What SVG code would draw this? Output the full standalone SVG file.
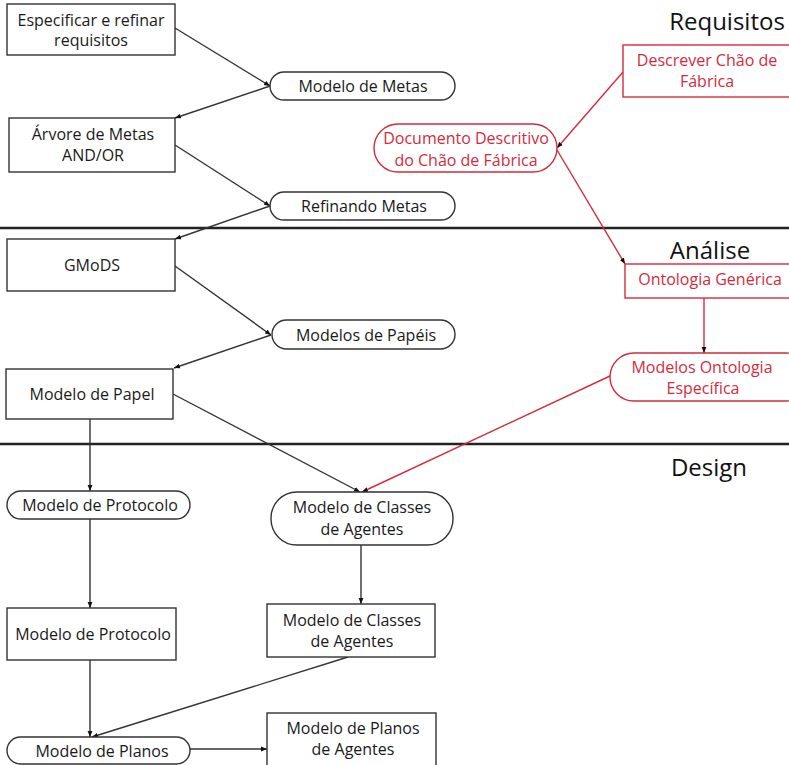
<svg xmlns="http://www.w3.org/2000/svg" width="789" height="765" viewBox="0 0 789 765">
  <defs>
    <style>
      .box { fill: #fff; stroke: #333; stroke-width: 1.4; }
      .rbox { fill: #fff; stroke: #d42b3c; stroke-width: 1.4; }
      .t { font-family: "Open Sans", "Liberation Sans", sans-serif; font-size: 16px; fill: #1a1a1a; text-anchor: middle; }
      .rt { font-family: "Open Sans", "Liberation Sans", sans-serif; font-size: 16px; fill: #d42b3c; text-anchor: middle; }
      .h { font-family: "Open Sans", "Liberation Sans", sans-serif; font-size: 24px; fill: #111; text-anchor: middle; }
      .c { fill: none; stroke: #333; stroke-width: 1.4; marker-end: url(#arr); }
      .rc { fill: none; stroke: #d42b3c; stroke-width: 1.4; marker-end: url(#arr); }
      .sep { stroke: #222; stroke-width: 2.6; }
    </style>
    <marker id="arr" viewBox="0 0 10 10" refX="10" refY="5" markerWidth="6" markerHeight="6" markerUnits="userSpaceOnUse" orient="auto">
      <path d="M0,1 L10,5 L0,9 z" fill="#111"/>
    </marker>
  </defs>

  <!-- phase separators and headings -->
  <g id="phases">
    <line class="sep" x1="0" y1="228" x2="789" y2="228"/>
    <line class="sep" x1="0" y1="444" x2="789" y2="444"/>
    <text class="h" x="727" y="30">Requisitos</text>
    <text class="h" x="710" y="259">Análise</text>
    <text class="h" x="709" y="476">Design</text>
  </g>

  <!-- connectors -->
  <g id="connectors">
    <line class="c" x1="175" y1="28" x2="270" y2="86"/>
    <line class="c" x1="270" y1="86" x2="175" y2="118"/>
    <line class="c" x1="175" y1="145" x2="270" y2="206"/>
    <line class="c" x1="270" y1="206" x2="175" y2="239"/>
    <line class="c" x1="175" y1="266" x2="271" y2="335"/>
    <line class="c" x1="271" y1="335" x2="174" y2="368"/>
    <line class="c" x1="90" y1="419" x2="90" y2="491"/>
    <line class="c" x1="173" y1="394" x2="360" y2="492"/>
    <line class="c" x1="90" y1="519" x2="90" y2="608"/>
    <line class="c" x1="361" y1="545" x2="361" y2="604"/>
    <line class="c" x1="90" y1="660" x2="90" y2="737"/>
    <line class="c" x1="348" y1="657" x2="92" y2="737"/>
    <line class="c" x1="190" y1="749" x2="267" y2="749"/>
    <line class="rc" x1="623" y1="72" x2="557" y2="148"/>
    <line class="rc" x1="557" y1="150" x2="625" y2="264"/>
    <line class="rc" x1="704" y1="298" x2="704" y2="353"/>
    <line class="rc" x1="610" y1="376" x2="362" y2="492"/>
  </g>

  <g id="especificar">
    <rect class="box" x="7" y="4" width="168" height="51"/>
    <text class="t" x="91" y="26">Especificar e refinar</text>
    <text class="t" x="91" y="46">requisitos</text>
  </g>
  <g id="modelo-metas">
    <rect class="box" x="270" y="72" width="185" height="28" rx="14"/>
    <text class="t" x="363" y="92">Modelo de Metas</text>
  </g>
  <g id="arvore-metas">
    <rect class="box" x="9" y="118" width="166" height="54"/>
    <text class="t" x="93" y="140">Árvore de Metas</text>
    <text class="t" x="93" y="161">AND/OR</text>
  </g>
  <g id="refinando-metas">
    <rect class="box" x="270" y="192" width="185" height="28" rx="14"/>
    <text class="t" x="364" y="212">Refinando Metas</text>
  </g>
  <g id="gmods">
    <rect class="box" x="7" y="239" width="168" height="52"/>
    <text class="t" x="92" y="271">GMoDS</text>
  </g>
  <g id="modelos-papeis">
    <rect class="box" x="272" y="320" width="183" height="29" rx="14.5"/>
    <text class="t" x="366" y="341">Modelos de Papéis</text>
  </g>
  <g id="modelo-papel">
    <rect class="box" x="6" y="369" width="167" height="50"/>
    <text class="t" x="92" y="400">Modelo de Papel</text>
  </g>
  <g id="protocolo-pill">
    <rect class="box" x="7" y="491" width="183" height="28" rx="14"/>
    <text class="t" x="100" y="511">Modelo de Protocolo</text>
  </g>
  <g id="classes-pill">
    <rect class="box" x="271" y="492" width="182" height="53" rx="26"/>
    <text class="t" x="362" y="513">Modelo de Classes</text>
    <text class="t" x="362" y="535">de Agentes</text>
  </g>
  <g id="protocolo-box">
    <rect class="box" x="7" y="608" width="169" height="52"/>
    <text class="t" x="93" y="640">Modelo de Protocolo</text>
  </g>
  <g id="classes-box">
    <rect class="box" x="267" y="604" width="168" height="53"/>
    <text class="t" x="352" y="626">Modelo de Classes</text>
    <text class="t" x="352" y="647">de Agentes</text>
  </g>
  <g id="planos-pill">
    <rect class="box" x="7" y="737" width="183" height="27" rx="13.5"/>
    <text class="t" x="102" y="757">Modelo de Planos</text>
  </g>
  <g id="planos-agentes">
    <rect class="box" x="267" y="713" width="169" height="60"/>
    <text class="t" x="353" y="734">Modelo de Planos</text>
    <text class="t" x="353" y="755">de Agentes</text>
  </g>

  <g id="descrever-chao">
    <rect class="rbox" x="623" y="45" width="170" height="52"/>
    <text class="rt" x="707" y="66">Descrever Chão de</text>
    <text class="rt" x="707" y="87">Fábrica</text>
  </g>
  <g id="documento-descritivo">
    <rect class="rbox" x="374" y="124" width="183" height="48" rx="24"/>
    <text class="rt" x="466" y="144">Documento Descritivo</text>
    <text class="rt" x="466" y="166">do Chão de Fábrica</text>
  </g>
  <g id="ontologia-generica">
    <rect class="rbox" x="625" y="264" width="170" height="34"/>
    <text class="rt" x="710" y="285">Ontologia Genérica</text>
  </g>
  <g id="ontologia-especifica">
    <rect class="rbox" x="610" y="353" width="200" height="48" rx="24"/>
    <text class="rt" x="702" y="373">Modelos Ontologia</text>
    <text class="rt" x="703" y="394">Específica</text>
  </g>
</svg>
